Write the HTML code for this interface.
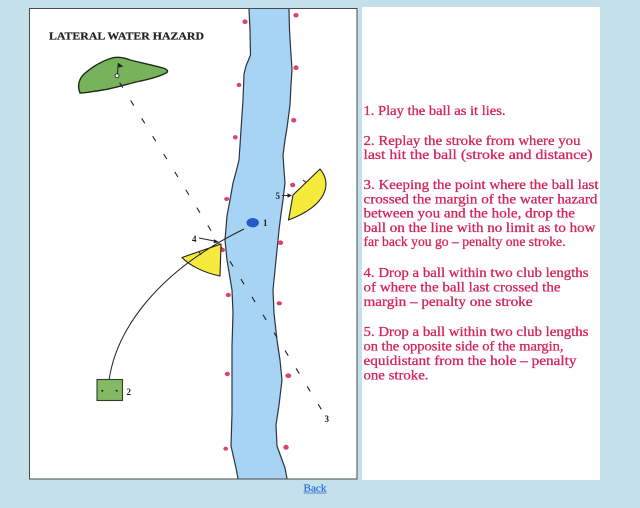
<!DOCTYPE html>
<html><head><meta charset="utf-8"><style>
html,body{margin:0;padding:0;background:#c4e1eb;}
svg{display:block;}
</style></head><body>
<svg width="640" height="508" viewBox="0 0 640 508" xmlns="http://www.w3.org/2000/svg">
<rect x="0" y="0" width="640" height="508" fill="#c4e1eb"/>
<!-- left panel -->
<rect x="29.5" y="8.5" width="327.5" height="470.5" fill="#ffffff" stroke="#4a4a4a" stroke-width="1"/>
<!-- right panel -->
<rect x="362" y="7" width="238" height="473" fill="#ffffff"/>

<!-- title -->
<text x="49" y="39.5" font-family="Liberation Serif, serif" font-weight="bold" font-size="10.5" fill="#222" stroke="#222" stroke-width="0.2" textLength="155" lengthAdjust="spacingAndGlyphs">LATERAL WATER HAZARD</text>

<!-- river -->
<path d="M249,9 L250,30 L250.5,55 L246,66 L244,74 L243,100 L241,130 L239,160 L236,172 L233,183 L230,200 L227,216 L225,240 L227,260 L232,290 L233,313 L232,346 L232,380 L232,413 L231,446 L236,468 L238,478.5 L287,478.5 L285,468 L277,446 L276,425 L279,405 L282,380 L280,360 L277,340 L274,313 L273,290 L275,270 L277,250 L279,230 L281,214 L283,200 L285,183 L284,170 L283,155 L285,140 L287,128 L290,105 L291,85 L292,70 L291,55 L289.5,30 L289,9 Z" fill="#a7d3f4" stroke="none"/>
<path d="M249,9 L250,30 L250.5,55 L246,66 L244,74 L243,100 L241,130 L239,160 L236,172 L233,183 L230,200 L227,216 L225,240 L227,260 L232,290 L233,313 L232,346 L232,380 L232,413 L231,446 L236,468 L238,478.5" fill="none" stroke="#2b3440" stroke-width="1.2" stroke-linejoin="round"/>
<path d="M287,478.5 L285,468 L277,446 L276,425 L279,405 L282,380 L280,360 L277,340 L274,313 L273,290 L275,270 L277,250 L279,230 L281,214 L283,200 L285,183 L284,170 L283,155 L285,140 L287,128 L290,105 L291,85 L292,70 L291,55 L289.5,30 L289,9" fill="none" stroke="#2b3440" stroke-width="1.2" stroke-linejoin="round"/>

<!-- red stakes -->
<g fill="#d8456e">
<ellipse cx="245" cy="21.7" rx="2.6" ry="2.3"/>
<ellipse cx="296" cy="15.3" rx="2.6" ry="2.3"/>
<ellipse cx="239" cy="85" rx="2.4" ry="2.2"/>
<ellipse cx="296" cy="67.7" rx="2.6" ry="2.3"/>
<ellipse cx="293.7" cy="120.3" rx="2.6" ry="2.3"/>
<ellipse cx="235.3" cy="137.3" rx="2.4" ry="2.2"/>
<ellipse cx="292.7" cy="185" rx="2.6" ry="2.3"/>
<ellipse cx="226.7" cy="199" rx="2.6" ry="2"/>
<ellipse cx="280.5" cy="242.7" rx="2.7" ry="2.3"/>
<ellipse cx="222.7" cy="250" rx="2.3" ry="2.1"/>
<ellipse cx="228.3" cy="295" rx="2.6" ry="2.1"/>
<ellipse cx="279.3" cy="303.3" rx="2.7" ry="2"/>
<ellipse cx="227.3" cy="374" rx="2.6" ry="2.2"/>
<ellipse cx="288.3" cy="375.7" rx="3" ry="2.3"/>
<ellipse cx="225.7" cy="448.7" rx="2.3" ry="2"/>
<ellipse cx="286" cy="447.3" rx="2.7" ry="2.5"/>
</g>

<!-- putting green -->
<path d="M80,93 C77,86 79,79 84,74 C92,67 102,61 112,58 C118,56.5 124,57.5 130,60 C140,62.5 152,65 163,68 C168,69.5 169,72 165,73.5 C158,77 146,80 136,82 C124,85 112,89 100,90.5 C92,91.5 85,93 80,93 Z" fill="#76b35a" stroke="#1f2a1a" stroke-width="1.4"/>
<line x1="117.5" y1="74" x2="118.3" y2="63" stroke="#222" stroke-width="1"/>
<path d="M118.3,63 L123.5,66.5 L118.3,67.5 Z" fill="#222"/>
<circle cx="117" cy="75.8" r="2" fill="#fff" stroke="#222" stroke-width="0.9"/>

<!-- dashed line of play -->
<line x1="118" y1="80" x2="323" y2="412" stroke="#222" stroke-width="1.1" stroke-dasharray="6 15" stroke-dashoffset="-3"/>

<!-- yellow drop zones -->
<path d="M293,195 L320,169 C332,183 328,205 288.5,220 Z" fill="#f6ea3c" stroke="#222" stroke-width="1.1" stroke-linejoin="round"/>
<path d="M221,244 L182,257.5 C190,266 205,273 220,276 Z" fill="#f6ea3c" stroke="#222" stroke-width="1.1" stroke-linejoin="round"/>
<line x1="303" y1="180" x2="306" y2="182.5" stroke="#222" stroke-width="0.9"/>
<line x1="199" y1="252" x2="201" y2="255" stroke="#222" stroke-width="0.9"/>

<!-- shot trajectory -->
<path d="M108,390 C112,330 160,270 244,229" fill="none" stroke="#222" stroke-width="1"/>

<!-- ball -->
<ellipse cx="252.7" cy="222.7" rx="6.2" ry="4.7" fill="#2857c6"/>
<text x="263" y="226" font-family="Liberation Serif, serif" font-weight="bold" font-size="9" fill="#222">1</text>

<!-- 4 label + arrow -->
<text x="192" y="242" font-family="Liberation Serif, serif" font-weight="bold" font-size="9" fill="#222">4</text>
<line x1="199" y1="238" x2="217" y2="241.5" stroke="#222" stroke-width="0.9"/>
<path d="M219,242 L214,239.2 L213.6,243.2 Z" fill="#222"/>

<!-- 5 label + arrow -->
<text x="275.5" y="199" font-family="Liberation Serif, serif" font-weight="bold" font-size="9" fill="#222">5</text>
<line x1="282" y1="195.5" x2="289" y2="195.5" stroke="#222" stroke-width="0.9"/>
<path d="M292,195.5 L287.5,193.3 L287.5,197.7 Z" fill="#222"/>

<!-- tee -->
<rect x="97" y="379.5" width="25.5" height="21" fill="#84b964" stroke="#2f3d2a" stroke-width="1.1"/>
<circle cx="102.3" cy="390.7" r="1" fill="#222"/>
<circle cx="116.7" cy="390.7" r="1" fill="#222"/>
<text x="126.5" y="395" font-family="Liberation Serif, serif" font-weight="bold" font-size="9" fill="#222">2</text>

<!-- 3 label -->
<text x="324.5" y="422" font-family="Liberation Serif, serif" font-weight="bold" font-size="9" fill="#222">3</text>

<!-- right text -->
<g font-family="Liberation Serif, serif" font-size="13.8" fill="#d4255a" stroke="#d4255a" stroke-width="0.3">
<text x="363.5" y="115" textLength="142" lengthAdjust="spacingAndGlyphs">1. Play the ball as it lies.</text>
<text x="363.5" y="145" textLength="217" lengthAdjust="spacingAndGlyphs">2. Replay the stroke from where you</text>
<text x="363.5" y="159" textLength="229" lengthAdjust="spacingAndGlyphs">last hit the ball (stroke and distance)</text>
<text x="363.5" y="189" textLength="235" lengthAdjust="spacingAndGlyphs">3. Keeping the point where the ball last</text>
<text x="363.5" y="203.3" textLength="234" lengthAdjust="spacingAndGlyphs">crossed the margin of the water hazard</text>
<text x="363.5" y="217.6" textLength="211.5" lengthAdjust="spacingAndGlyphs">between you and the hole, drop the</text>
<text x="363.5" y="231.9" textLength="232" lengthAdjust="spacingAndGlyphs">ball on the line with no limit as to how</text>
<text x="363.5" y="246.2" textLength="202" lengthAdjust="spacingAndGlyphs">far back you go – penalty one stroke.</text>
<text x="363.5" y="277" textLength="225" lengthAdjust="spacingAndGlyphs">4. Drop a ball within two club lengths</text>
<text x="363.5" y="291.5" textLength="197" lengthAdjust="spacingAndGlyphs">of where the ball last crossed the</text>
<text x="363.5" y="306" textLength="169" lengthAdjust="spacingAndGlyphs">margin – penalty one stroke</text>
<text x="363.5" y="336" textLength="225" lengthAdjust="spacingAndGlyphs">5. Drop a ball within two club lengths</text>
<text x="363.5" y="350.5" textLength="200" lengthAdjust="spacingAndGlyphs">on the opposite side of the margin,</text>
<text x="363.5" y="365" textLength="213" lengthAdjust="spacingAndGlyphs">equidistant from the hole – penalty</text>
<text x="363.5" y="379.5" textLength="65" lengthAdjust="spacingAndGlyphs">one stroke.</text>
</g>

<!-- Back link -->
<text x="303.5" y="491.5" font-family="Liberation Serif, serif" font-size="11" fill="#2a6bd6" stroke="#2a6bd6" stroke-width="0.2" textLength="23" lengthAdjust="spacingAndGlyphs">Back</text>
<line x1="303.5" y1="493" x2="326.5" y2="493" stroke="#2a6bd6" stroke-width="0.8"/>
</svg>
</body></html>
